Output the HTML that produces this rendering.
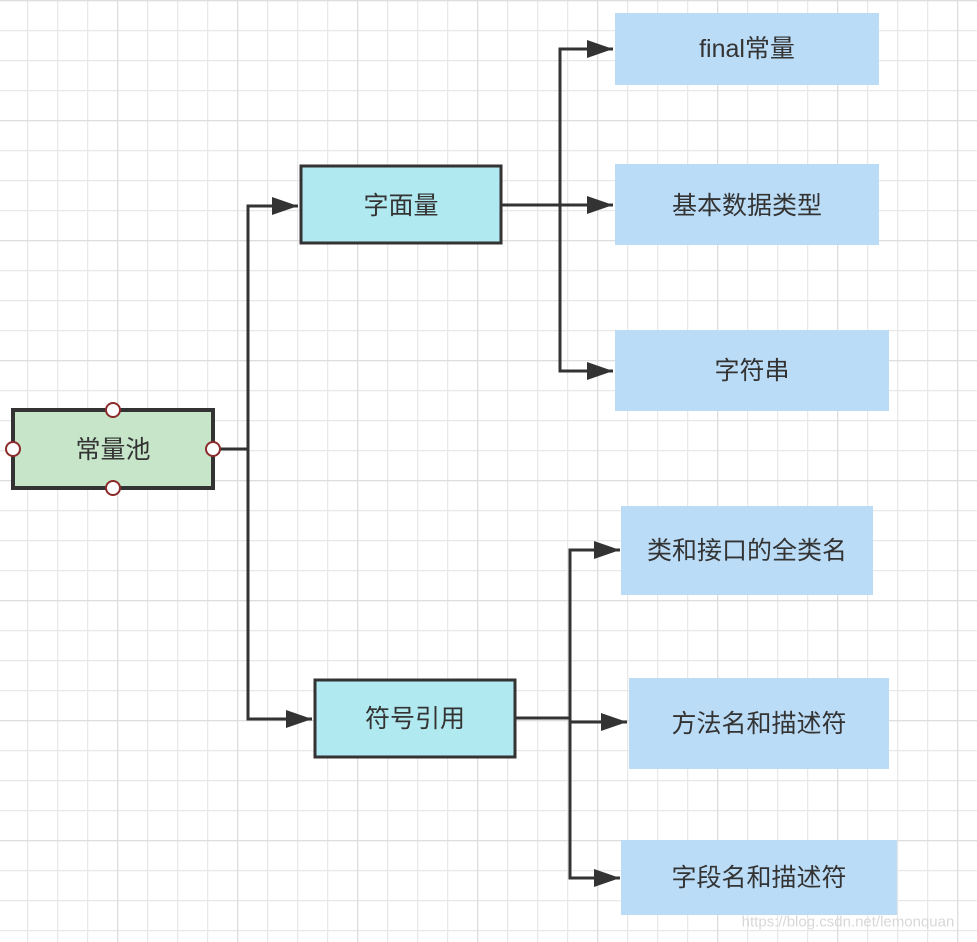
<!DOCTYPE html>
<html><head><meta charset="utf-8"><style>
html,body{margin:0;padding:0;background:#fff}
svg{display:block}
text{font-family:"Liberation Sans","Noto Sans CJK SC",sans-serif;font-size:25px;fill:#333;text-anchor:middle;dominant-baseline:central}
</style></head><body>
<svg width="977" height="942" viewBox="0 0 977 942" xmlns="http://www.w3.org/2000/svg">
<defs>
<pattern id="g" x="27" y="0" width="30" height="30" patternUnits="userSpaceOnUse">
<path d="M0 0V30M0 0H30" stroke="#e8e8e8" stroke-width="2.5" fill="none"/>
</pattern>
<pattern id="G" x="-3" y="0" width="120" height="120" patternUnits="userSpaceOnUse">
<path d="M0 0V120M0 0H120" stroke="#dedede" stroke-width="2.5" fill="none"/>
</pattern>
<marker id="a" markerWidth="26" markerHeight="18" refX="10" refY="5" orient="auto" markerUnits="userSpaceOnUse" viewBox="0 0 10 10" preserveAspectRatio="none">
<path d="M0 0L10 5L0 10Z" fill="#333"/>
</marker>
</defs>
<rect width="977" height="942" fill="url(#g)"/>
<rect width="977" height="942" fill="url(#G)"/>
<g stroke="#333" stroke-width="3" fill="none">
<path d="M213 449H248V206H278"/>
<path d="M248 449V719H292"/>
<path d="M248 206H298" marker-end="url(#a)"/>
<path d="M248 719H312" marker-end="url(#a)"/>
<path d="M502 205H560V49H613" marker-end="url(#a)"/>
<path d="M560 205H613" marker-end="url(#a)"/>
<path d="M560 205V371H613" marker-end="url(#a)"/>
<path d="M516 718H570V550H620" marker-end="url(#a)"/>
<path d="M570 722H627" marker-end="url(#a)"/>
<path d="M570 718V878H620" marker-end="url(#a)"/>
</g>
<rect x="13" y="410" width="200" height="78" fill="#c6e5c9" stroke="#333" stroke-width="4"/>
<text x="113" y="450">常量池</text>
<g fill="#fff" stroke="#8b2a2a" stroke-width="2">
<circle cx="113" cy="410" r="7"/><circle cx="113" cy="488" r="7"/>
<circle cx="13" cy="449" r="7"/><circle cx="213" cy="449" r="7"/>
</g>
<rect x="301" y="166" width="200" height="77" fill="#b1e9f0" stroke="#333" stroke-width="3"/>
<text x="401" y="206">字面量</text>
<rect x="315" y="680" width="200" height="77" fill="#b1e9f0" stroke="#333" stroke-width="3"/>
<text x="415" y="719">符号引用</text>
<g fill="#bbdcf7">
<rect x="615" y="13" width="264" height="72"/>
<rect x="615" y="164" width="264" height="81"/>
<rect x="615" y="330" width="274" height="81"/>
<rect x="621" y="506" width="252" height="89"/>
<rect x="629" y="678" width="260" height="91"/>
<rect x="621" y="840" width="276" height="75"/>
</g>
<text x="747" y="49">final常量</text>
<text x="747" y="206">基本数据类型</text>
<text x="752" y="371">字符串</text>
<text x="747" y="551">类和接口的全类名</text>
<text x="759" y="724">方法名和描述符</text>
<text x="759" y="878">字段名和描述符</text>
<text x="848" y="922" style="font-size:15px;fill:#d8d8d8">https://blog.csdn.net/lemonquan</text>
</svg>
</body></html>
